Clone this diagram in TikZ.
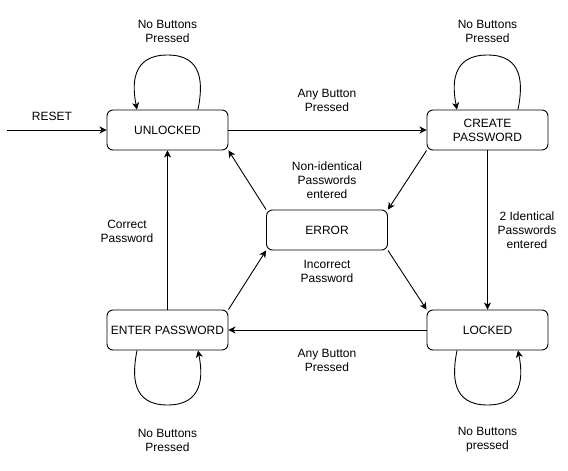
\documentclass[tikz,border=0pt]{standalone}
\usepackage{fontspec}
\setmainfont{Liberation Sans}
\usetikzlibrary{arrows.meta}
\tikzset{%
  statebox/.style={draw, line width=0.9pt, rounded corners=6pt, minimum width=121pt, minimum height=40pt, inner sep=0pt, text centered, align=center, font=\fontsize{12}{14}\selectfont},%
  edgetext/.style={inner sep=0pt, align=center, font=\fontsize{12}{14}\selectfont},%
  trans/.style={line width=0.9pt, -{Stealth[length=7pt,width=7pt,inset=2pt]}},%
}
\begin{document}
\begin{tikzpicture}[x=1pt, y=-1pt]%
\useasboundingbox (0,0) rectangle (568,471);%
\node[statebox] (unlocked) at (167.5,130) {UNLOCKED};%
\node[statebox] (create) at (487.5,130) {CREATE\\PASSWORD};%
\node[statebox] (error) at (327,230) {ERROR};%
\node[statebox] (enter) at (167.5,330) {ENTER PASSWORD};%
\node[statebox] (locked) at (487.5,330) {LOCKED};%
\coordinate (reset) at (7,130);%
\coordinate (ulloop) at (167.5,55);%
\coordinate (crloop) at (487.5,55);%
\coordinate (enloop) at (167.5,405);%
\coordinate (loloop) at (487.5,405);%
\draw[trans] (reset) -- (unlocked);%
\draw[trans] (unlocked) -- (create);%
\draw[trans] (create.south west) -- (error.north east);%
\draw[trans] (error.north west) -- (unlocked.south east);%
\draw[trans] (create) -- (locked);%
\draw[trans] (error.south east) -- (locked.north west);%
\draw[trans] (locked) -- (enter);%
\draw[trans] (enter.north east) -- (error.south west);%
\draw[trans] (enter) -- (unlocked);%
\draw[trans] ([xshift=30.5pt]unlocked.north) .. controls +(5,-25) and +(36,0) .. (ulloop) .. controls +(-36,0) and +(-5,-25) .. ([xshift=-30.5pt]unlocked.north);%
\draw[trans] ([xshift=30.5pt]create.north) .. controls +(5,-25) and +(36,0) .. (crloop) .. controls +(-36,0) and +(-5,-25) .. ([xshift=-30.5pt]create.north);%
\draw[trans] ([xshift=-30.5pt]enter.south) .. controls +(-5,25) and +(-36,0) .. (enloop) .. controls +(36,0) and +(5,25) .. ([xshift=30.5pt]enter.south);%
\draw[trans] ([xshift=-30.5pt]locked.south) .. controls +(-5,25) and +(-36,0) .. (loloop) .. controls +(36,0) and +(5,25) .. ([xshift=30.5pt]locked.south);%
\node[edgetext] (lreset) at (52,116) {RESET};%
\node[edgetext] (lulloop) at (167.5,31) {No Buttons\\Pressed};%
\node[edgetext] (lcrloop) at (487.5,31) {No Buttons\\Pressed};%
\node[edgetext] (lanytop) at (327,100) {Any Button\\Pressed};%
\node[edgetext] (lnonid) at (327,180) {Non-identical\\Passwords\\entered};%
\node[edgetext] (lident) at (527,230) {2 Identical\\Passwords\\entered};%
\node[edgetext] (lcorrect) at (127,231) {Correct\\Password};%
\node[edgetext] (lincorrect) at (327,271) {Incorrect\\Password};%
\node[edgetext] (lanybot) at (327,360) {Any Button\\Pressed};%
\node[edgetext] (lenloop) at (167.5,440) {No Buttons\\Pressed};%
\node[edgetext] (lloloop) at (487.5,440) {No Buttons\\pressed};%
\end{tikzpicture}
\end{document}
